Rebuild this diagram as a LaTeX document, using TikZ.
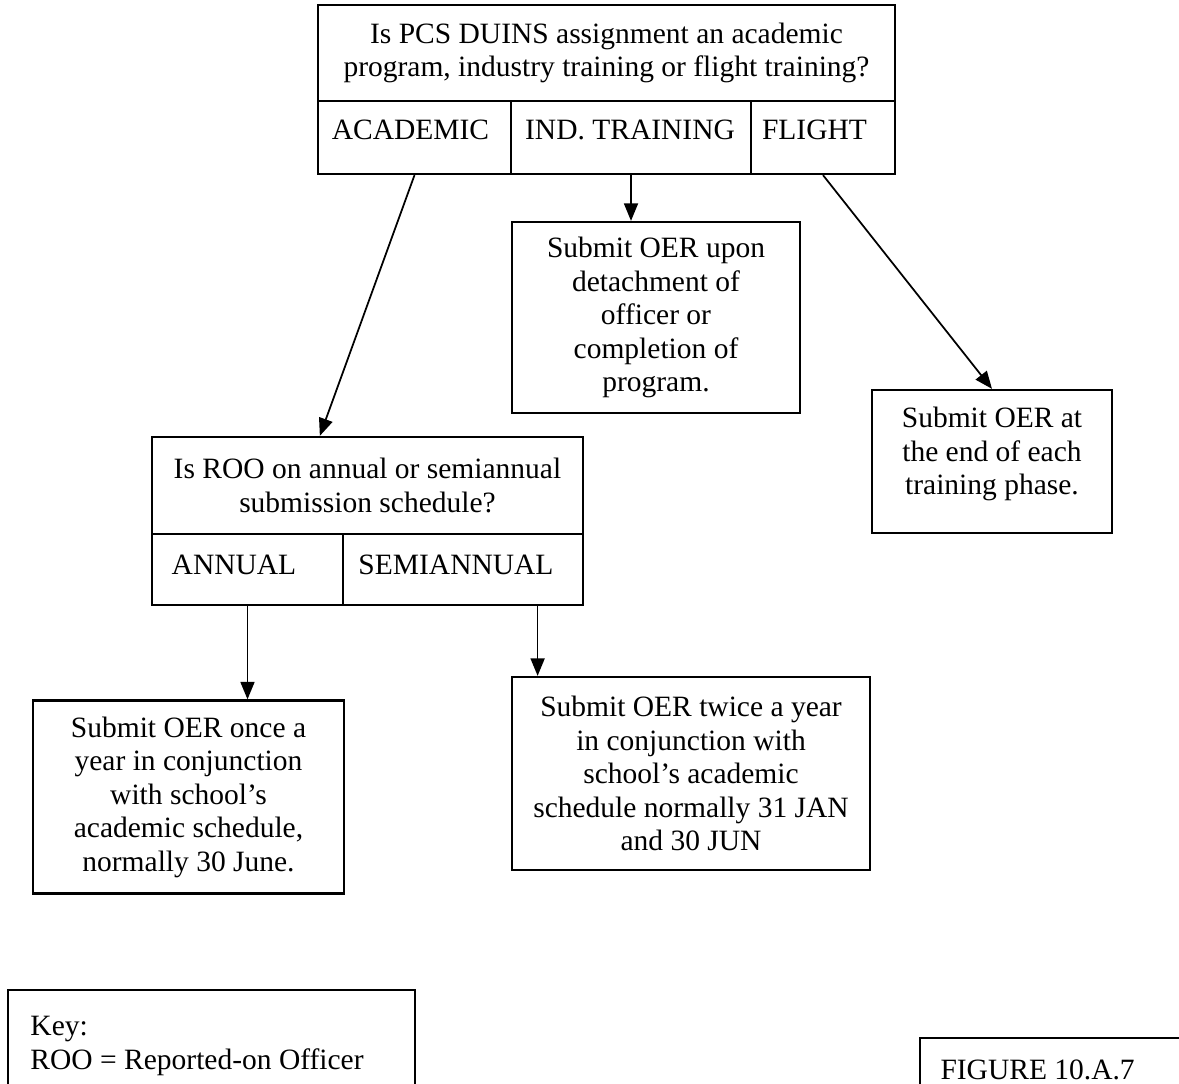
\documentclass[tikz,border=0pt]{standalone}
\usepackage{fontspec}
\setmainfont{Liberation Serif}
\usetikzlibrary{arrows.meta,calc}
\begin{document}
\begin{tikzpicture}[x=0.4pt,y=-0.4pt,
  txt/.style={inner sep=0pt,align=center,font=\fontsize{11.8}{13.4}\selectfont},
  box/.style={txt,draw,line width=0.9pt,rectangle},
  arr/.style={line width=0.7pt,-{Triangle[length=7pt,width=5.6pt]}}]
\useasboundingbox (0,0) rectangle (1179,1084);
\clip (0,0) rectangle (1179,1084);

% top question box
\node[box,minimum width=230.8pt,minimum height=38.4pt] (q1) at (606.5,53)
  {Is PCS DUINS assignment an academic\\program, industry training or flight training?};
\node[box,minimum width=77.2pt,minimum height=29.2pt] (acad) at (414.5,137.5) {};
\node[box,minimum width=96pt,minimum height=29.2pt] (ind) at (631,137.5) {};
\node[box,minimum width=57.6pt,minimum height=29.2pt] (flt) at (823,137.5) {};
\node[txt] (lacad) at (410.5,130) {ACADEMIC};
\node[txt] (lind) at (630,130) {IND. TRAINING};
\node[txt] (lflt) at (814.5,130) {FLIGHT};

% industry training result
\node[box,minimum width=115.2pt,minimum height=76.4pt] (cbox) at (656,317.5)
  {Submit OER upon\\detachment of\\officer or\\completion of\\program.};

% flight result
\node[box,minimum width=96pt,minimum height=57.2pt] (fbox) at (992,461.5) {};
\node[txt] (ftext) at (992,454) {Submit OER at\\the end of each\\training phase.};

% ROO question box
\node[box,minimum width=172.4pt,minimum height=38.8pt] (roo) at (367.5,485.5)
  {Is ROO on annual or semiannual\\submission schedule?};
\node[box,minimum width=76.4pt,minimum height=28.4pt] (ann) at (247.5,569.5) {};
\node[box,minimum width=96pt,minimum height=28.4pt] (semi) at (463,569.5) {};
\node[txt] (lann) at (234,565) {ANNUAL};
\node[txt] (lsemi) at (456,565) {SEMIANNUAL};

% annual result
\node[box,minimum width=124.4pt,minimum height=77.2pt] (abox) at (188.5,797)
  {Submit OER once a\\year in conjunction\\with school's\\academic schedule,\\normally 30 June.};

% semiannual result
\node[box,minimum width=143.2pt,minimum height=77.2pt] (sbox) at (691,773.5)
  {Submit OER twice a year\\in conjunction with\\school's academic\\schedule normally 31 JAN\\and 30 JUN};

% key box
\node[box,minimum width=162.8pt,minimum height=48pt] (key) at (211.5,1050) {};
\node[txt,align=left,anchor=west] (keytext) at (30,1046) {Key:\\ROO = Reported-on Officer};

% figure box
\node[box,minimum width=112pt,minimum height=28.8pt] (fig) at (1060,1074) {};
\node[txt,anchor=west] (figtext) at (940,1070) {FIGURE 10.A.7};

% connectors
\draw[arr] (acad.south) -- ($(roo.north west)!0.39!(roo.north east)$);
\draw[arr] (ind.south) -- (ind.south |- cbox.north);
\draw[arr] (flt.south) -- (fbox.north);
\draw[arr] (ann.south) -- (ann.south |- abox.north);
\coordinate (semiout) at ($(semi.south west)!0.808!(semi.south east)$);
\draw[arr] (semiout) -- (semiout |- sbox.north);
\end{tikzpicture}
\end{document}
